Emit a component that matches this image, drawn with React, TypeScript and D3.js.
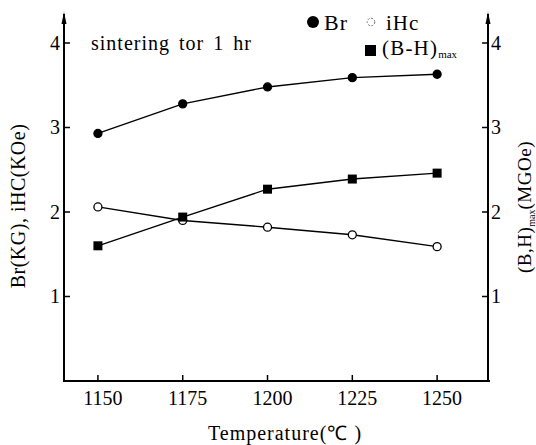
import React from 'react';
import * as d3 from 'd3';

const temps = [1150, 1175, 1200, 1225, 1250];
const brValues = [2.93, 3.28, 3.48, 3.59, 3.63];
const ihcValues = [2.06, 1.9, 1.82, 1.73, 1.59];
const bhMaxValues = [1.6, 1.94, 2.27, 2.39, 2.46];
const yTicks = [1, 2, 3, 4];

const FONT = "'Liberation Serif'";
const width = 536, height = 445;
const left = 64, right = 488, bottom = 381, top = 43;

const x = d3.scaleLinear().domain([1140, 1265]).range([left, right]);
const y = d3.scaleLinear().domain([0, 4]).range([bottom, top]);
const yR = d3.scaleLinear().domain([0, 4]).range([bottom, top]);

const App = () => {
  const lineFor = (scale: d3.ScaleLinear<number, number>) =>
    d3.line<number>().x((_, i) => x(temps[i])).y(d => scale(d));

  const series = [
    { key: "br", values: brValues, scale: y, marker: "dot" },
    { key: "ihc", values: ihcValues, scale: y, marker: "open" },
    { key: "bh", values: bhMaxValues, scale: yR, marker: "square" },
  ];

  const ts = (size: number, ls = 0) => ({ fontFamily: FONT, fontSize: size, letterSpacing: ls });

  return (
    <svg width={width} height={height} style={{ position: "absolute", left: 0, top: 0, background: "#fff" }}>
      {/* frame */}
      <path d={`M${left},14 V${bottom} H${right + 2} M${right},${bottom} V14`} fill="none" stroke="#000" strokeWidth={2} />
      {[left, right].map(ax => (
        <path key={ax} d={`M${ax - 2.5},24 L${ax},12 L${ax + 2.5},24 Z`} fill="#000" />
      ))}

      {/* x ticks */}
      {temps.map(t => (
        <g key={t} transform={`translate(${x(t)},${bottom})`}>
          <line y2={-6} stroke="#000" strokeWidth={1.5} />
          <text x={5} y={24} textAnchor="middle" style={ts(20)}>{t}</text>
        </g>
      ))}

      {/* left y ticks */}
      {yTicks.map(v => (
        <g key={"l" + v} transform={`translate(${left},${y(v)})`}>
          <line x2={6} stroke="#000" strokeWidth={1.5} />
          <text x={-4} dy="0.34em" textAnchor="end" style={ts(20)}>{v}</text>
        </g>
      ))}

      {/* right y ticks */}
      {yTicks.map(v => (
        <g key={"r" + v} transform={`translate(${right},${yR(v)})`}>
          <line x2={-6} stroke="#000" strokeWidth={1.5} />
          <text x={3} dy="0.34em" textAnchor="start" style={ts(20)}>{v}</text>
        </g>
      ))}

      {/* series */}
      {series.map(s => (
        <g key={s.key}>
          <path d={lineFor(s.scale)(s.values) ?? ""} fill="none" stroke="#000" strokeWidth={1.4} />
          {s.values.map((v, i) => {
            const cx = x(temps[i]), cy = s.scale(v);
            return s.marker === "square"
              ? <rect key={i} x={cx - 4.5} y={cy - 4.5} width={9} height={9} fill="#000" />
              : <circle key={i} cx={cx} cy={cy} r={4} fill={s.marker === "dot" ? "#000" : "#fff"} stroke="#000" strokeWidth={1.3} />;
          })}
        </g>
      ))}

      {/* annotation */}
      <text x={91} y={50} style={{ ...ts(20, 1), wordSpacing: 3 }}>sintering tor 1 hr</text>

      {/* legend */}
      <circle cx={313} cy={22} r={6} fill="#000" />
      <text x={324} y={30} style={ts(22, 1)}>Br</text>
      <circle cx={371} cy={22} r={3.8} fill="none" stroke="#777" strokeWidth={1} strokeDasharray="2,1.5" />
      <text x={386} y={30} style={ts(21, 1)}>iHc</text>
      <rect x={365} y={45} width={11} height={11} fill="#000" />
      <text x={382} y={55} style={ts(21, 1.2)}>
        <tspan>(B-H)</tspan>
        <tspan dy={3} style={{ fontSize: 11, letterSpacing: 0 }}>max</tspan>
      </text>

      {/* axis titles */}
      <text transform="translate(25,206) rotate(-90)" textAnchor="middle" style={ts(20, 0.5)}>Br(KG), iHC(KOe)</text>
      <text transform="translate(531,207) rotate(-90)" textAnchor="middle" style={ts(19, 0.5)}>
        <tspan>(B,H)</tspan>
        <tspan dy={4} style={{ fontSize: 10, letterSpacing: 0 }}>max</tspan>
        <tspan dy={-4}>(MGOe)</tspan>
      </text>
      <text x={285} y={440} textAnchor="middle" style={ts(20, 1)}>{"Temperature(\u2103 )"}</text>
    </svg>
  );
};

export default App;
